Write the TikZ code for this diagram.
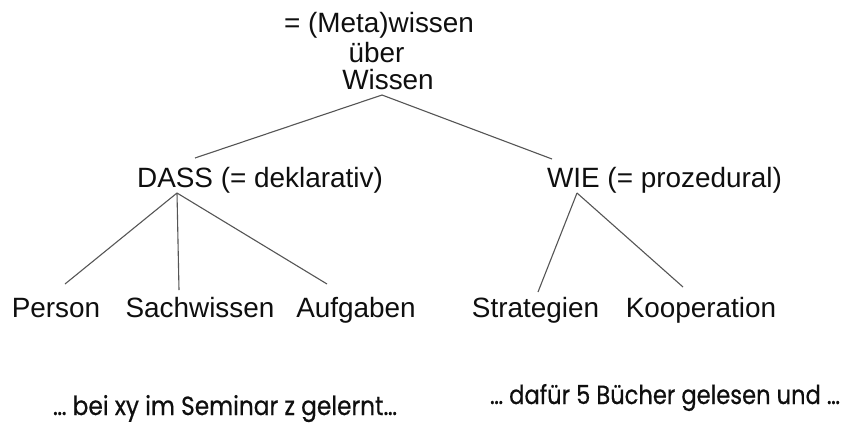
\documentclass[tikz,border=0pt]{standalone}
\usepackage{fontspec}
\usepackage{graphicx}
\setmainfont{Liberation Sans}
\newfontfamily\handfont[FakeBold=0.6]{Poppins}
\definecolor{linegray}{RGB}{85,85,85}
\definecolor{textblack}{RGB}{15,15,15}
\begin{document}
\begin{tikzpicture}[x=1pt,y=-1pt,
  lbl/.style={anchor=base,inner sep=0pt,text=textblack,font=\fontsize{27.9}{33}\selectfont},
  note/.style={anchor=base,inner sep=0pt,text=textblack},
  edge/.style={draw=linegray,line width=1.1pt}]
\useasboundingbox[fill=white] (0,0) rectangle (845,426);
% top label
\node[lbl] (t1) at (379,32) {= (Meta)wissen};
\node[lbl] (t2) at (376.5,62) {über};
\node[lbl] (root) at (388,89) {Wissen};
% second level
\node[lbl] (dass) at (260,187) {DASS (= deklarativ)};
\node[lbl] (wie) at (664.5,187) {WIE (= prozedural)};
% leaves
\node[lbl] (person) at (56,317) {Person};
\node[lbl] (sach) at (200,317) {Sachwissen};
\node[lbl] (auf) at (356,317) {Aufgaben};
\node[lbl] (strat) at (535.5,317) {Strategien};
\node[lbl] (koop) at (701,317) {Kooperation};
% notes
\node[note] (n1) at (225,415) {\resizebox{344pt}{20pt}{\handfont … bei xy im Seminar z gelernt…}};
\node[note] (n2) at (665,404) {\resizebox{350pt}{20pt}{\handfont … dafür 5 Bücher gelesen und …}};
% connector points
\coordinate (rootP) at (382,95);
\coordinate (dassN) at (195,158);
\coordinate (wieN) at (552,159);
\coordinate (dassP) at (177,193);
\coordinate (wieP) at (577,193);
\coordinate (personN) at (65,284);
\coordinate (sachN) at (179,290);
\coordinate (aufN) at (327,284);
\coordinate (stratN) at (538,292);
\coordinate (koopN) at (683,287);
% connectors
\draw[edge] (rootP) -- (dassN);
\draw[edge] (rootP) -- (wieN);
\draw[edge] (dassP) -- (personN);
\draw[edge] (dassP) -- (sachN);
\draw[edge] (dassP) -- (aufN);
\draw[edge] (wieP) -- (stratN);
\draw[edge] (wieP) -- (koopN);
\end{tikzpicture}
\end{document}
